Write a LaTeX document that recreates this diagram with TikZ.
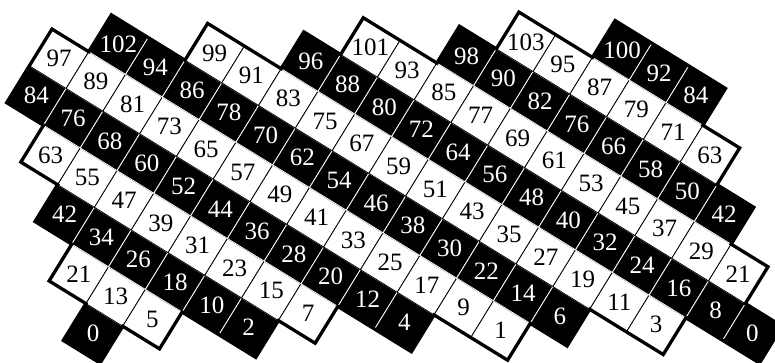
\documentclass[tikz,border=0pt]{standalone}
\usepackage{fontspec}
\setmainfont{Liberation Serif}
\tikzset{
  cellbox/.style={line width=0.8pt},
  numlabel/.style={inner sep=0pt, font=\fontsize{25}{25}\selectfont},
  outline/.style={line width=3.3pt, line join=miter}
}
\begin{document}
\begin{tikzpicture}
\useasboundingbox (0,0) rectangle (775pt,-363pt);
\clip (0,0) rectangle (775pt,-363pt);
\begin{scope}[shift={(93pt,-333.3pt)}, rotate=-31.608, x=43.2pt, y=43.2pt]
  % cells
  \foreach \j/\a/\b in {0/0/0, 1/-1/1, 2/-2/3, 3/-3/4, 4/-4/6, 5/-4/8, 6/-3/9,
                        7/-1/11, 8/1/13, 9/2/12, 10/4/11, 11/5/10, 12/7/9} {
    \foreach \i in {\a,...,\b} {
      \pgfmathtruncatemacro\n{13*\j-8*\i}
      \ifodd\n \def\cf{white}\def\cd{black}\else \def\cf{black}\def\cd{white}\fi
      \filldraw[cellbox, fill=\cf, draw=\cd] (\i-0.5,\j-0.5) rectangle (\i+0.5,\j+0.5);
    }
  }
  % labels
  \foreach \j/\a/\b in {0/0/0, 1/-1/1, 2/-2/3, 3/-3/4, 4/-4/6, 5/-4/8, 6/-3/9,
                        7/-1/11, 8/1/13, 9/2/12, 10/4/11, 11/5/10, 12/7/9} {
    \foreach \i in {\a,...,\b} {
      \pgfmathtruncatemacro\n{13*\j-8*\i}
      \ifodd\n \def\ct{black}\else \def\ct{white}\fi
      \ifnum\j=10 \ifnum\i=7 \def\n{76}\fi\fi
      \node[numlabel, text=\ct] (c\i_\j) at (\i,\j) {\n};
    }
  }
  % outer outline
  \draw[outline] (-0.5,-0.5) -- (0.5,-0.5) -- (0.5,0.5) -- (1.5,0.5) -- (1.5,1.5)
    -- (3.5,1.5) -- (3.5,2.5) -- (4.5,2.5) -- (4.5,3.5) -- (6.5,3.5) -- (6.5,4.5)
    -- (8.5,4.5) -- (8.5,5.5) -- (9.5,5.5) -- (9.5,6.5) -- (11.5,6.5) -- (11.5,7.5)
    -- (13.5,7.5) -- (13.5,8.5) -- (12.5,8.5) -- (12.5,9.5) -- (11.5,9.5) -- (11.5,10.5)
    -- (10.5,10.5) -- (10.5,11.5) -- (9.5,11.5) -- (9.5,12.5) -- (6.5,12.5) -- (6.5,11.5)
    -- (4.5,11.5) -- (4.5,10.5) -- (3.5,10.5) -- (3.5,9.5) -- (1.5,9.5) -- (1.5,8.5)
    -- (0.5,8.5) -- (0.5,7.5) -- (-1.5,7.5) -- (-1.5,6.5) -- (-3.5,6.5) -- (-3.5,5.5)
    -- (-4.5,5.5) -- (-4.5,3.5) -- (-3.5,3.5) -- (-3.5,2.5) -- (-2.5,2.5) -- (-2.5,1.5)
    -- (-1.5,1.5) -- (-1.5,0.5) -- (-0.5,0.5) -- cycle;
\end{scope}
\end{tikzpicture}
\end{document}
